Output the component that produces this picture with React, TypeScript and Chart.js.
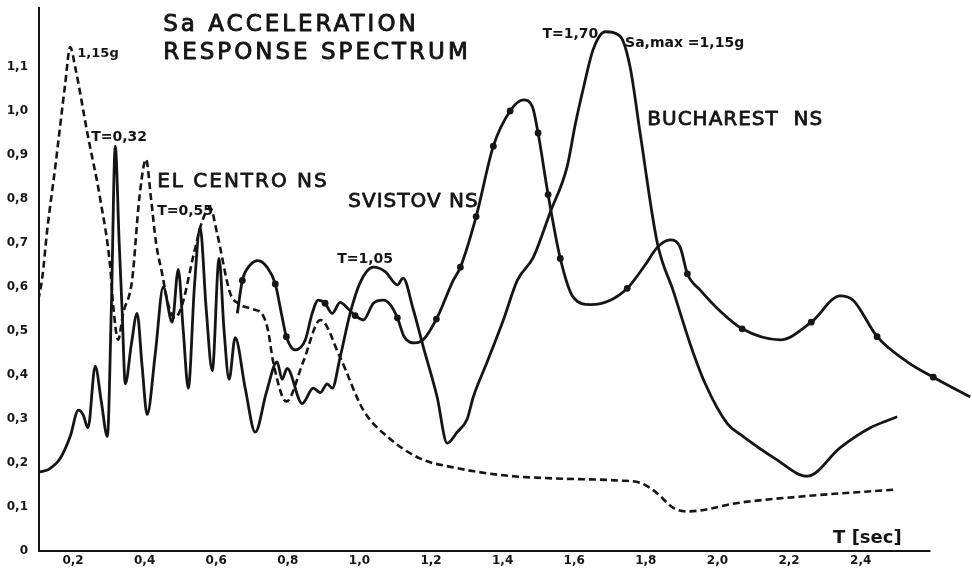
import React, { useEffect, useRef } from "react";
import { Chart, registerables } from "chart.js";

Chart.register(...registerables);

// ---- Tick labels ----
const xTickValues = [0.2, 0.4, 0.6, 0.8, 1.0, 1.2, 1.4, 1.6, 1.8, 2.0, 2.2, 2.4];
const yTickValues = [0, 0.1, 0.2, 0.3, 0.4, 0.5, 0.6, 0.7, 0.8, 0.9, 1.0, 1.1];
const xAxisEnd = 2.595;

// ---- El Centro NS (dashed) ----
const elCentroT = [
  0.103, 0.114, 0.128, 0.15, 0.178, 0.192, 0.206, 0.24, 0.276, 0.304, 0.312, 0.326, 0.34, 0.365,
  0.385, 0.404, 0.418, 0.432, 0.449, 0.466, 0.485, 0.505, 0.536, 0.561, 0.583, 0.603, 0.639, 0.667,
  0.701, 0.731, 0.745, 0.759, 0.796, 0.843, 0.891, 0.946, 1.011, 1.078, 1.17, 1.262, 1.402, 1.541,
  1.728, 1.784, 1.826, 1.877, 1.916, 2.064, 2.251, 2.502,
];
const elCentroSa = [
  0.57, 0.62, 0.73, 0.87, 1.06, 1.145, 1.1, 0.95, 0.8, 0.645, 0.56, 0.48, 0.54, 0.615,
  0.8, 0.89, 0.8, 0.7, 0.63, 0.56, 0.53, 0.56, 0.67, 0.75, 0.78, 0.72, 0.586, 0.56,
  0.55, 0.535, 0.5, 0.43, 0.34, 0.43, 0.525, 0.44, 0.32, 0.26, 0.21, 0.19, 0.172, 0.165,
  0.16, 0.155, 0.135, 0.098, 0.09, 0.11, 0.125, 0.14,
];

// ---- Bucharest NS (solid) ----
const bucharestT = [
  0.107, 0.131, 0.164, 0.192, 0.215, 0.228, 0.242, 0.262, 0.279, 0.296, 0.307, 0.318, 0.329, 0.337,
  0.346, 0.363, 0.379, 0.393, 0.407, 0.43, 0.452, 0.477, 0.494, 0.508, 0.522, 0.539, 0.555, 0.572,
  0.589, 0.608, 0.622, 0.636, 0.653, 0.681, 0.709, 0.74, 0.77, 0.784, 0.798, 0.84, 0.871, 0.891,
  0.91, 0.924, 0.946, 0.974, 1.002, 1.039, 1.072, 1.106, 1.122, 1.15, 1.178, 1.217, 1.245, 1.273,
  1.301, 1.318, 1.357, 1.402, 1.441, 1.486, 1.533, 1.58, 1.603, 1.625, 1.653, 1.687, 1.728, 1.756,
  1.784, 1.832, 1.877, 1.924, 1.966, 2.027, 2.064, 2.161, 2.251, 2.343, 2.427, 2.502,
];
const bucharestSa = [
  0.18, 0.185, 0.21, 0.26, 0.32, 0.31, 0.28, 0.42, 0.34, 0.26, 0.55, 0.92, 0.7, 0.55,
  0.38, 0.47, 0.54, 0.42, 0.31, 0.45, 0.6, 0.52, 0.64, 0.5, 0.37, 0.6, 0.735, 0.55,
  0.41, 0.665, 0.5, 0.39, 0.485, 0.37, 0.27, 0.36, 0.43, 0.39, 0.415, 0.335, 0.37, 0.36,
  0.38, 0.37, 0.44, 0.54, 0.61, 0.645, 0.635, 0.605, 0.62, 0.55, 0.465, 0.35, 0.245, 0.27,
  0.3, 0.35, 0.43, 0.525, 0.615, 0.668, 0.77, 0.873, 0.97, 1.05, 1.14, 1.18, 1.17, 1.1,
  0.95, 0.7, 0.59, 0.47, 0.38, 0.29, 0.265, 0.21, 0.17, 0.235, 0.28, 0.305,
];

// ---- Svistov NS (solid with dots) ----
const svistovT = [
  0.659, 0.673, 0.695, 0.717, 0.742, 0.765, 0.782, 0.796, 0.821, 0.849, 0.868, 0.885, 0.904, 0.924,
  0.946, 0.969, 0.988, 1.011, 1.039, 1.066, 1.086, 1.106, 1.125, 1.156, 1.178, 1.215, 1.262, 1.282,
  1.326, 1.374, 1.421, 1.458, 1.483, 1.499, 1.527, 1.561, 1.597, 1.645, 1.701, 1.748, 1.798, 1.832,
  1.868, 1.896, 1.916, 1.952, 2.008, 2.069, 2.175, 2.262, 2.343, 2.379, 2.446, 2.53, 2.603, 2.706,
];
const svistovSa = [
  0.54, 0.615, 0.65, 0.66, 0.645, 0.607, 0.54, 0.487, 0.457, 0.48, 0.54, 0.57, 0.563, 0.54,
  0.565, 0.55, 0.535, 0.525, 0.563, 0.57, 0.56, 0.53, 0.487, 0.473, 0.48, 0.527, 0.615, 0.645,
  0.76, 0.92, 1.0, 1.025, 1.01, 0.95, 0.81, 0.665, 0.577, 0.56, 0.57, 0.597, 0.65, 0.69,
  0.707, 0.69, 0.63, 0.593, 0.545, 0.505, 0.48, 0.52, 0.58, 0.57, 0.487, 0.43, 0.395, 0.35,
];
const svistovDots = [
  0, 1, 0, 0, 0, 1, 0, 1, 0, 0, 0, 0, 1, 0,
  0, 0, 1, 0, 0, 0, 0, 1, 0, 0, 0, 1, 0, 1,
  1, 1, 1, 0, 0, 1, 1, 1, 0, 0, 0, 1, 0, 0,
  0, 0, 1, 0, 0, 1, 0, 1, 0, 0, 1, 0, 1, 0,
];

// ---- Text annotations (placed in data coordinates) ----
const annotations = [
  { text: "Sa ACCELERATION", t: 0.452, v: 1.182, font: "23px 'DejaVu Sans'", spacing: 3, heavy: 0.9 },
  { text: "RESPONSE SPECTRUM", t: 0.452, v: 1.118, font: "23px 'DejaVu Sans'", spacing: 3, heavy: 0.9 },
  { text: "1,15g", t: 0.212, v: 1.123, font: "bold 13px 'DejaVu Sans'", spacing: 0, heavy: 0 },
  { text: "T=0,32", t: 0.251, v: 0.932, font: "bold 14px 'DejaVu Sans'", spacing: 0, heavy: 0 },
  { text: "EL CENTRO NS", t: 0.435, v: 0.827, font: "20px 'DejaVu Sans'", spacing: 2, heavy: 0.8 },
  { text: "T=0,55", t: 0.435, v: 0.764, font: "bold 14px 'DejaVu Sans'", spacing: 0, heavy: 0 },
  { text: "SVISTOV NS", t: 0.969, v: 0.782, font: "20px 'DejaVu Sans'", spacing: 1, heavy: 0.8 },
  { text: "T=1,05", t: 0.938, v: 0.655, font: "bold 14px 'DejaVu Sans'", spacing: 0, heavy: 0 },
  { text: "T=1,70", t: 1.511, v: 1.166, font: "bold 14px 'DejaVu Sans'", spacing: 0, heavy: 0 },
  { text: "Sa,max =1,15g", t: 1.742, v: 1.145, font: "bold 14px 'DejaVu Sans'", spacing: 0, heavy: 0 },
  { text: "BUCHAREST  NS", t: 1.804, v: 0.968, font: "20px 'DejaVu Sans'", spacing: 1, heavy: 0.8 },
  { text: "T [sec]", t: 2.323, v: 0.018, font: "bold 18px 'DejaVu Sans'", spacing: 0, heavy: 0 },
];

const INK = "#151515";

const fmt = (v: number) => (Math.abs(v) < 1e-9 ? "0" : v.toFixed(1).replace(".", ","));
const pts = (ts: number[], vs: number[]) => ts.map((t, i) => ({ x: t, y: vs[i] }));

const overlayPlugin = {
  id: "overlay",
  afterDraw(chart: any) {
    const { ctx, chartArea, scales } = chart;
    const x = scales.x;
    const y = scales.y;
    ctx.save();
    ctx.strokeStyle = INK;
    ctx.lineWidth = 2;
    ctx.beginPath();
    const y0 = y.getPixelForValue(0);
    ctx.moveTo(chartArea.left - 1, y0);
    ctx.lineTo(x.getPixelForValue(xAxisEnd), y0);
    ctx.stroke();
    ctx.fillStyle = INK;
    ctx.textAlign = "left";
    ctx.textBaseline = "alphabetic";
    ctx.lineJoin = "round";
    for (const a of annotations) {
      ctx.font = a.font;
      (ctx as any).letterSpacing = a.spacing + "px";
      const px = x.getPixelForValue(a.t);
      const py = y.getPixelForValue(a.v);
      ctx.fillText(a.text, px, py);
      if (a.heavy > 0) {
        ctx.lineWidth = a.heavy;
        ctx.strokeText(a.text, px, py);
      }
    }
    ctx.restore();
  },
};

export default function App() {
  const ref = useRef<HTMLCanvasElement>(null);
  useEffect(() => {
    if (!ref.current) return;
    const tickFont = { family: "'DejaVu Sans'", size: 12, weight: "bold" as const };
    const chart = new Chart(ref.current, {
      type: "line",
      data: {
        datasets: [
          {
            label: "EL CENTRO NS",
            data: pts(elCentroT, elCentroSa),
            borderColor: INK,
            borderWidth: 2.6,
            borderDash: [7, 4],
            pointRadius: 0,
            cubicInterpolationMode: "monotone",
            fill: false,
          },
          {
            label: "BUCHAREST NS",
            data: pts(bucharestT, bucharestSa),
            borderColor: INK,
            borderWidth: 2.8,
            pointRadius: 0,
            cubicInterpolationMode: "monotone",
            fill: false,
          },
          {
            label: "SVISTOV NS",
            data: pts(svistovT, svistovSa),
            borderColor: INK,
            borderWidth: 2.8,
            pointRadius: (c: any) => (svistovDots[c.dataIndex] ? 3.4 : 0),
            pointHoverRadius: 0,
            pointBackgroundColor: INK,
            pointBorderColor: INK,
            pointBorderWidth: 0,
            cubicInterpolationMode: "monotone",
            fill: false,
          },
        ],
      },
      options: {
        responsive: false,
        animation: false,
        events: [],
        layout: { padding: { top: 8, left: 0, right: 0, bottom: 0 } },
        plugins: { legend: { display: false }, tooltip: { enabled: false }, title: { display: false } },
        scales: {
          x: {
            type: "linear",
            min: 0.105,
            max: 2.711,
            grid: { display: true, drawOnChartArea: false, drawTicks: false },
            border: { display: false },
            ticks: {
              padding: 3,
              color: INK,
              font: tickFont,
              maxRotation: 0,
              autoSkip: false,
              callback: (v: any) => fmt(Number(v)),
            },
            afterBuildTicks: (s: any) => {
              s.ticks = xTickValues.map((value) => ({ value }));
            },
            afterFit: (s: any) => {
              s.height = 21;
              s.paddingLeft = 0;
              s.paddingRight = 0;
            },
          },
          y: {
            type: "linear",
            min: 0,
            max: 1.234,
            grid: { display: true, drawOnChartArea: false, drawTicks: false },
            border: { display: true, color: INK, width: 2 },
            ticks: {
              padding: 11,
              color: INK,
              font: tickFont,
              autoSkip: false,
              callback: (v: any) => fmt(Number(v)),
            },
            afterBuildTicks: (s: any) => {
              s.ticks = yTickValues.map((value) => ({ value }));
            },
            afterFit: (s: any) => {
              s.width = 39;
              s.paddingTop = 0;
              s.paddingBottom = 0;
            },
          },
        },
      },
      plugins: [overlayPlugin],
    });
    return () => chart.destroy();
  }, []);
  return (
    <div style={{ position: "fixed", left: 0, top: 0, width: 972, height: 572, background: "#fff" }}>
      <canvas ref={ref} width={972} height={572} style={{ display: "block" }} />
    </div>
  );
}
